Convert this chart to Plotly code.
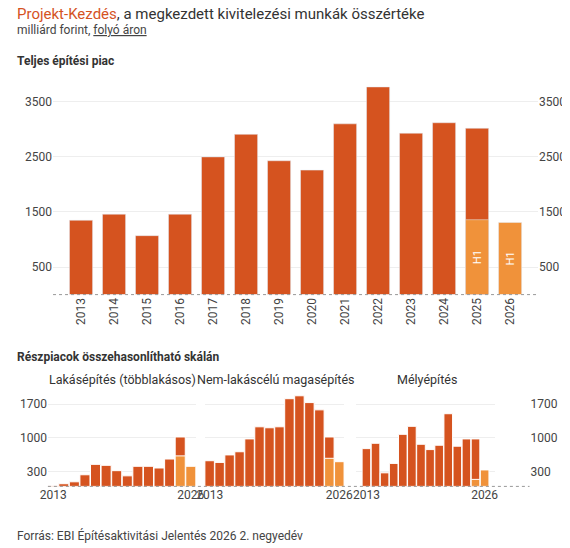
import plotly.graph_objects as go

DARK = '#d5531f'
LIGHT = '#f0923a'

# Teljes építési piac
years = [str(y) for y in range(2013, 2027)]
total = [1350, 1460, 1070, 1460, 2500, 2910, 2430, 2260, 3100, 3770, 2930, 3120, 3020, None]
h1 = [None] * 12 + [1360, 1310]

# Részpiacok
lakas = [15, 55, 95, 240, 455, 435, 325, 218, 415, 415, 380, 565, 1020, None]
lakas_h1 = [None] * 12 + [630, 415]
nemlakas = [530, 495, 650, 715, 980, 1230, 1210, 1230, 1810, 1870, 1730, 1580, 1020, None]
nemlakas_h1 = [None] * 12 + [580, 510]
mely = [780, 890, 280, 475, 1075, 1240, 870, 760, 850, 1500, 830, 980, 980, None]
mely_h1 = [None] * 12 + [145, 340]

panel_titles = ['Lakásépítés (többlakásos)', 'Nem-lakáscélú magasépítés', 'Mélyépítés']

FONT = 'Roboto'
S = 0.015  # shift up to offset page margin

fig = go.Figure()

# top chart
fig.add_bar(x=years, y=total, marker_color=DARK, xaxis='x', yaxis='y')
fig.add_bar(x=years, y=h1, marker_color=LIGHT, xaxis='x', yaxis='y',
            text=['H1' if v else '' for v in h1], textposition='inside',
            textangle=-90, insidetextanchor='middle',
            textfont=dict(color='white', size=11, family=FONT))
fig.add_scatter(x=years, y=[None] * 14, xaxis='x', yaxis='y2', showlegend=False)

# small multiples
panels = [(lakas, lakas_h1), (nemlakas, nemlakas_h1), (mely, mely_h1)]
for i, (tot, half) in enumerate(panels):
    xa = 'x%d' % (i + 3)
    ya = 'y%d' % (i + 3)
    fig.add_bar(x=years, y=tot, width=0.95,
                marker=dict(color=DARK, line=dict(color='white', width=1)), xaxis=xa, yaxis=ya)
    fig.add_bar(x=years, y=half, width=0.95,
                marker=dict(color=LIGHT, line=dict(color='white', width=1)), xaxis=xa, yaxis=ya)
fig.add_scatter(x=years, y=[None] * 14, xaxis='x5', yaxis='y6', showlegend=False)

grid = '#eeeeee'
tick_font = dict(family=FONT, size=12, color='#444')
sm_x = dict(type='category', categoryarray=years, tickvals=['2013', '2026'], automargin=False,
            showgrid=False, ticks='', tickfont=tick_font, tickangle=0)
sm_y = dict(range=[0, 1900], tickvals=[300, 1000, 1700], showgrid=True, automargin=False,
            gridcolor=grid, zeroline=False, tickfont=tick_font, showticklabels=False)

top_d = [0.462 + S, 0.854 + S]
bot_d = [0.112 + S, 0.28 + S]

fig.update_layout(
    width=570, height=548,
    margin=dict(l=0, r=0, t=0, b=0),
    plot_bgcolor='white', paper_bgcolor='white',
    showlegend=False, barmode='overlay', bargap=0.3,
    font=dict(family=FONT, color='#333'),
    xaxis=dict(domain=[0.079, 0.93], anchor='y', type='category', tickangle=-90, automargin=False,
               showgrid=False, ticks='', tickfont=tick_font, showline=False),
    yaxis=dict(domain=top_d, range=[0, 3900], tickvals=[500, 1500, 2500, 3500], automargin=False,
               gridcolor=grid, zeroline=False, tickfont=tick_font),
    yaxis2=dict(overlaying='y', matches='y', side='right', tickvals=[500, 1500, 2500, 3500],
                automargin=False, showgrid=False, zeroline=False, tickfont=tick_font, anchor='x'),
    xaxis3=dict(domain=[0.07, 0.33], anchor='y3', **sm_x),
    yaxis3=dict(domain=bot_d, anchor='x3', **{**sm_y, 'showticklabels': True}),
    xaxis4=dict(domain=[0.345, 0.59], anchor='y4', **sm_x),
    yaxis4=dict(domain=bot_d, anchor='x4', **sm_y),
    xaxis5=dict(domain=[0.61, 0.855], anchor='y5', **sm_x),
    yaxis5=dict(domain=bot_d, anchor='x5', **sm_y),
    yaxis6=dict(overlaying='y5', matches='y5', side='right', anchor='free', position=0.915,
                automargin=False, tickvals=[300, 1000, 1700], showgrid=False, zeroline=False,
                tickfont=tick_font),
)

# dotted baselines
fig.add_shape(type='line', xref='paper', yref='paper', x0=0.079, x1=0.93, y0=top_d[0], y1=top_d[0],
              line=dict(color='#999', width=1, dash='dot'))
fig.add_shape(type='line', xref='paper', yref='paper', x0=0.07, x1=0.915, y0=bot_d[0], y1=bot_d[0],
              line=dict(color='#999', width=1, dash='dot'))

ann = [
    dict(x=0.012, y=0.995 + S, text='<span style="color:#d5531f">Projekt-Kezdés</span>, a megkezdett kivitelezési munkák összértéke',
         font=dict(size=15, color='#333')),
    dict(x=0.012, y=0.962 + S, text='milliárd forint, <u>folyó áron</u>', font=dict(size=12, color='#444')),
    dict(x=0.012, y=0.905 + S, text='<b>Teljes építési piac</b>', font=dict(size=12, color='#333')),
    dict(x=0.012, y=0.365 + S, text='<b>Részpiacok összehasonlítható skálán</b>', font=dict(size=12, color='#333')),
    dict(x=0.012, y=0.04 + S, text='Forrás: EBI Építésaktivitási Jelentés 2026 2. negyedév', font=dict(size=12, color='#444')),
]
for a in ann:
    fig.add_annotation(xref='paper', yref='paper', xanchor='left', yanchor='top', showarrow=False, **a)
for t, cx in zip(panel_titles, [0.2, 0.47, 0.735]):
    fig.add_annotation(xref='paper', yref='paper', x=cx, y=0.325 + S, xanchor='center', yanchor='top',
                       text=t, showarrow=False, font=dict(size=12.5, color='#333'))

fig.write_html('out.html')
